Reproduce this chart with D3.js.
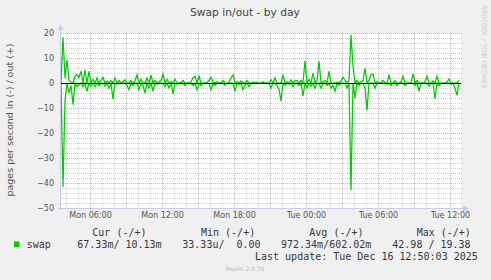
<!DOCTYPE html>
<meta charset="utf-8">
<style>
html, body { margin: 0; background: #f0f0f0; }
svg { display: block; }
.tick text { font-family: "DejaVu Sans", sans-serif; font-size: 8px; fill: #555; }
.legend text { font-family: "DejaVu Sans Mono", monospace; font-size: 10px; fill: #383838; white-space: pre; }
</style>
<body>
<svg id="chart" width="491" height="280"></svg>
</body>
<script src="https://cdn.jsdelivr.net/npm/d3@7"></script>
<script>

// samples every 10 minutes starting Mon Dec 15 03:35
var startTime = new Date(2025, 11, 15, 3, 35)
var stepMinutes = 10

// swap out (drawn positive)
var swapOut = [
  0, 18.3, 2, 9.2, 1, 0.5, 0, 2.7, 3.3, 2.2,
  4.7, 0, 5.3, 0, 4.7, 0, 1.5, 0, 2, 0,
  1, 2.3, 0, 0.8, 0, 1, 0, 2, 0, 1,
  0, 0.5, 1.3, 0, 0, 1, 0, 0.8, 3.3, 0,
  1.5, 0, 0, 2, 0, 3.1, 0, 1, 0, 0.5,
  1, 3.6, 0, 1.5, 0, 0.5, 0, 1.5, 0, 0,
  0.3, 1, 0, 0, 0, 0.5, 2, 2.7, 0, 2.7,
  0, 0, 0, 0.3, 1, 2.3, 0.5, 0, 0.5, 0,
  0, 1, 0, 0, 0.3, 2, 3.3, 0, 0.5, 0,
  0.8, 0, 0, 1, 0, 0, 0.3, 0.3, 0.3, 0,
  0, 0.5, 0, 0, 0, 1.3, 0, 2, 0, 0,
  0, 3.3, 0, 0.5, 0, 1.2, 0, 1, 1, 0,
  1, 0, 8.9, 0, 1.5, 0, 4, 0, 1, 8.7,
  0, 0.5, 1, 0, 4.7, 0, 0, 0, 0.3, 0,
  0.8, 2.3, 1, 0, 1, 19.3, 6.7, 0, 1, 0,
  0.5, 1, 5.9, 0, 1, 3.3, 3.6, 0, 0.5, 0.3,
  0, 1, 0.3, 0, 3.3, 0, 0, 1, 0, 0,
  0.5, 2.7, 0, 0, 0, 0, 3.6, 0, 1, 0,
  0, 0, 0.5, 2.7, 0, 0, 0.8, 0, 2.7, 0,
  0, 0, 0, 0.5, 1.6, 0, 0, 0, 0, 1
]

// swap in (drawn negative)
var swapIn = [
  0, 41.5, 6.7, 0, 4, 1, 8.7, 0, 1.5, 0.5,
  0, 1.5, 0, 3.3, 0, 1.2, 0, 1.5, 0, 1,
  0, 0, 1.2, 0, 2, 0, 6.5, 0, 0.5, 0,
  0, 0, 0, 1, 2.7, 0, 1, 0, 0, 2.7,
  0, 1, 4, 0, 2, 0, 3.3, 0, 0.5, 0,
  0, 0, 1.5, 0, 2, 0, 4.4, 0, 0.5, 0,
  0, 0, 1, 0, 0, 0, 1, 0, 2.7, 0,
  1, 0, 0, 0, 0, 2.7, 0, 1, 0, 0,
  0, 0, 0.8, 0, 0, 0, 0, 3.3, 0, 0.5,
  0, 2.7, 1, 0, 1.5, 0, 0, 0, 0, 0,
  0, 0, 0, 0, 0, 2, 0, 0, 1, 2.5,
  7.3, 0, 0.8, 0, 0.5, 0, 1.5, 0, 0, 1,
  0, 5.3, 0, 2, 0, 1.3, 0, 2, 0, 0,
  2, 0, 0, 1, 0, 2, 1, 3.3, 0, 0.8,
  0, 0, 0, 2, 0, 42.8, 0, 6, 0, 1,
  0, 0, 2, 11, 0, 0, 0, 2, 0, 0,
  0, 0, 0, 0.5, 0, 1, 0, 0, 1, 0,
  0, 0, 1, 0, 0, 0, 0, 1, 0, 3.3,
  0, 0, 0, 0, 1.3, 0, 0, 6.3, 0, 1,
  0, 0, 0, 0, 0, 0.5, 0, 2, 4.9, 0
]

var yTicks = [-50, -40, -30, -20, -10, 0, 10, 20]

var legendHeaders = ["Cur (-/+)", "Min (-/+)", "Avg (-/+)", "Max (-/+)"]
var legendValues = ["67.33m/ 10.13m", "33.33u/  0.00", "972.34m/602.02m", "42.98 / 19.38"]

var times = swapOut.map(function(d, i) {
  return d3.timeMinute.offset(startTime, i * stepMinutes)
})

var svg = d3.select("#chart")
var plotL = 61, plotR = 461, plotT = 33, plotB = 208

var x = d3.scaleTime()
    .domain([startTime, d3.timeMinute.offset(startTime, 400 * 5)])
    .range([plotL, plotR])

var y = d3.scaleLinear()
    .domain([-50, 20])
    .range([plotB, plotT])

svg.append("rect")
    .attr("width", 491).attr("height", 280)
    .attr("fill", "#f0f0f0")

svg.append("rect")
    .attr("x", plotL).attr("y", plotT)
    .attr("width", plotR - plotL).attr("height", plotB - plotT)
    .attr("fill", "#fff")

// minor grid
var grid = svg.append("g").attr("shape-rendering", "crispEdges")
grid.selectAll(".vmin")
    .data(x.ticks(d3.timeHour.every(1)))
  .enter().append("line")
    .attr("x1", function(d) { return Math.round(x(d)) + 0.5 })
    .attr("x2", function(d) { return Math.round(x(d)) + 0.5 })
    .attr("y1", plotT).attr("y2", plotB)
    .attr("stroke", "#d4d4d4").attr("stroke-dasharray", "1,1")
grid.selectAll(".hmin")
    .data(d3.range(-48, 21, 2))
  .enter().append("line")
    .attr("x1", plotL).attr("x2", plotR + 2)
    .attr("y1", function(d) { return Math.round(y(d)) + 0.5 })
    .attr("y2", function(d) { return Math.round(y(d)) + 0.5 })
    .attr("stroke", "#d4d4d4").attr("stroke-dasharray", "1,1")

// major grid
grid.selectAll(".vmaj")
    .data(x.ticks(d3.timeHour.every(3)))
  .enter().append("line")
    .attr("x1", function(d) { return Math.round(x(d)) + 0.5 })
    .attr("x2", function(d) { return Math.round(x(d)) + 0.5 })
    .attr("y1", plotT).attr("y2", plotB)
    .attr("stroke", "#eeaaaa").attr("stroke-dasharray", "1,1")
grid.selectAll(".hmaj")
    .data(yTicks.filter(function(d) { return d > -50 }))
  .enter().append("line")
    .attr("x1", plotL).attr("x2", plotR + 2)
    .attr("y1", function(d) { return Math.round(y(d)) + 0.5 })
    .attr("y2", function(d) { return Math.round(y(d)) + 0.5 })
    .attr("stroke", "#eeaaaa").attr("stroke-dasharray", "1,1")

// y labels
svg.append("g")
    .attr("transform", "translate(" + plotL + ",0)")
    .call(d3.axisLeft(y).tickValues(yTicks).tickSize(0).tickPadding(7))
    .call(function(g) { g.select(".domain").remove() })

// x labels
svg.append("g")
    .attr("transform", "translate(0," + plotB + ")")
    .call(d3.axisBottom(x).ticks(d3.timeHour.every(6)).tickFormat(d3.timeFormat("%a %H:%M")).tickSize(0).tickPadding(4))
    .call(function(g) { g.select(".domain").remove() })

// data lines
var lineOut = d3.line()
    .x(function(d, i) { return x(times[i]) })
    .y(function(d) { return y(d) })
var lineIn = d3.line()
    .x(function(d, i) { return x(times[i]) })
    .y(function(d) { return y(-d) })

svg.append("path").datum(swapIn)
    .attr("d", lineIn).attr("fill", "none")
    .attr("stroke", "#00cc00").attr("stroke-width", 1.25)
svg.append("path").datum(swapOut)
    .attr("d", lineOut).attr("fill", "none")
    .attr("stroke", "#00cc00").attr("stroke-width", 1.25)

// zero line
svg.append("line")
    .attr("x1", plotL).attr("x2", plotR)
    .attr("y1", Math.round(y(0)) + 0.5).attr("y2", Math.round(y(0)) + 0.5)
    .attr("stroke", "#000").attr("stroke-width", 1)

// axes with arrows
var axisColor = "#c6cbf5"
svg.append("line")
    .attr("x1", plotL - 0.5).attr("x2", plotL - 0.5)
    .attr("y1", plotB + 2).attr("y2", plotT - 4)
    .attr("stroke", axisColor)
svg.append("line")
    .attr("x1", plotL - 3).attr("x2", plotR + 4)
    .attr("y1", plotB + 0.5).attr("y2", plotB + 0.5)
    .attr("stroke", axisColor)
svg.append("path")
    .attr("d", "M" + (plotL - 3.5) + "," + (plotT - 3) + "L" + (plotL - 0.5) + "," + (plotT - 9) + "L" + (plotL + 2.5) + "," + (plotT - 3) + "Z")
    .attr("fill", axisColor)
svg.append("path")
    .attr("d", "M" + (plotR + 2) + "," + (plotB - 2.5) + "L" + (plotR + 8) + "," + (plotB + 0.5) + "L" + (plotR + 2) + "," + (plotB + 3.5) + "Z")
    .attr("fill", axisColor)

// titles
svg.append("text")
    .attr("x", 245).attr("y", 16)
    .attr("text-anchor", "middle")
    .style("font-family", "DejaVu Sans, sans-serif").style("font-size", "10.7px")
    .attr("fill", "#444")
    .text("Swap in/out - by day")

svg.append("text")
    .attr("transform", "translate(13,120) rotate(-90)")
    .attr("text-anchor", "middle")
    .style("font-family", "DejaVu Sans, sans-serif").style("font-size", "9.5px")
    .attr("fill", "#555")
    .text("pages per second in (-) / out (+)")

svg.append("text")
    .attr("transform", "translate(482,5) rotate(90)")
    .style("font-family", "DejaVu Sans, sans-serif").style("font-size", "6.5px")
    .attr("fill", "#ccc")
    .text("RRDTOOL / TOBI OETIKER")

// legend
var legend = svg.append("g").attr("class", "legend")
var headerX = [92.3, 201, 309.3, 416.7]
var valueX = [77.3, 182.3, 281, 392.3]
legend.selectAll(".hdr")
    .data(legendHeaders)
  .enter().append("text")
    .attr("x", function(d, i) { return headerX[i] })
    .attr("y", 236)
    .text(function(d) { return d })
legend.append("rect")
    .attr("x", 14).attr("y", 241.5).attr("width", 5.5).attr("height", 5.5)
    .attr("fill", "#00cc00")
legend.append("text").attr("x", 26.7).attr("y", 248).text("swap")
legend.selectAll(".val")
    .data(legendValues)
  .enter().append("text")
    .attr("x", function(d, i) { return valueX[i] })
    .attr("y", 248)
    .text(function(d) { return d })
legend.append("text")
    .attr("x", 255).attr("y", 260)
    .text("Last update: Tue Dec 16 12:50:03 2025")

svg.append("text")
    .attr("x", 245).attr("y", 271)
    .attr("text-anchor", "middle")
    .style("font-family", "DejaVu Sans, sans-serif").style("font-size", "6px")
    .attr("fill", "#bbb")
    .text("Munin 2.0.76")

</script>
